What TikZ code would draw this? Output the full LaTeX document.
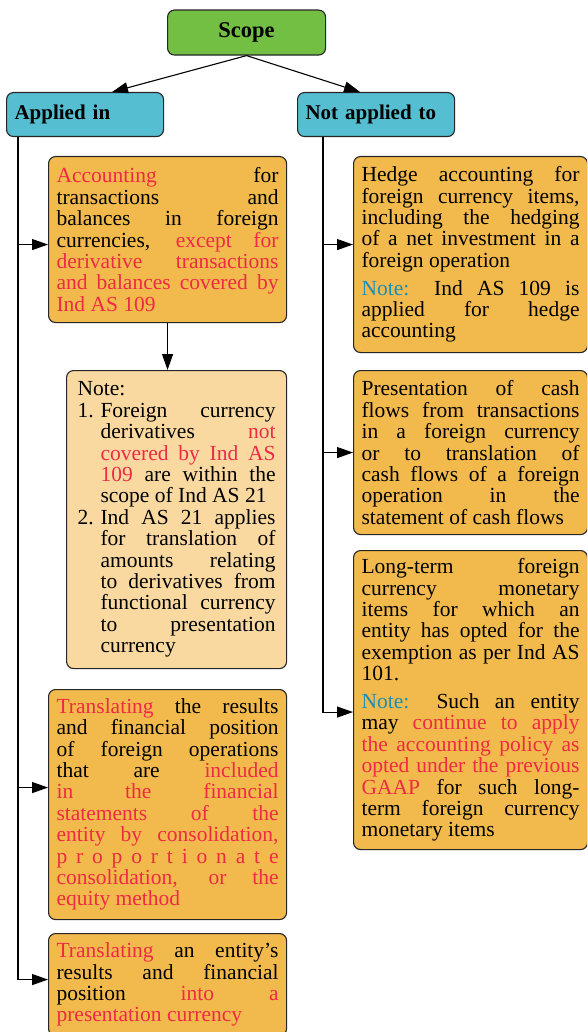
\documentclass[tikz,border=0pt]{standalone}
\usepackage{fontspec}
\setmainfont{Liberation Serif}
\usepackage{xcolor}
\definecolor{scopeGreen}{HTML}{72BF44}
\definecolor{headBlue}{HTML}{56BED1}
\definecolor{boxOrange}{HTML}{F2BA4C}
\definecolor{noteFill}{HTML}{F9D9A0}
\definecolor{hiRed}{HTML}{EE2A45}
\definecolor{noteBlue}{HTML}{1A8FB4}
\usetikzlibrary{arrows.meta}
\newcommand{\hi}[1]{\textcolor{hiRed}{#1}}
\newcommand{\nb}[1]{\textcolor{noteBlue}{#1}}
\newcommand{\numitem}[2]{{\leftskip=23pt\noindent\hspace*{-23pt}\makebox[23pt][l]{#1}#2\par}}
\tikzset{
  card/.style={draw=black!85, line width=1.1pt, rounded corners=7pt, anchor=north west},
  headbox/.style={card, fill=headBlue, minimum height=44pt, text width=141pt, align=left,
    inner xsep=8pt, font=\fontsize{21}{24}\selectfont\bfseries},
  itembox/.style={card, fill=boxOrange, text width=222pt, align=justify, inner xsep=8pt,
    inner ysep=6pt, font=\fontsize{21.5}{21.4}\selectfont},
  arr/.style={line width=1.1pt, -{Triangle[length=16pt,width=11pt]}}
}

\begin{document}
\begin{tikzpicture}[x=1pt,y=1pt]
  \useasboundingbox (0,0) rectangle (587,-1032);
  \clip (0,0) rectangle (587,-1032);
  % top of the tree
  \node[card, fill=scopeGreen, minimum width=158pt, minimum height=45pt,
    font=\fontsize{22.5}{24}\selectfont\bfseries] (scope) at (167,-9.5) {Scope};
  \node[headbox] (applied) at (6,-92) {Applied in};
  \node[headbox] (napplied) at (297,-92) {Not applied to};
  % applied in
  \node[itembox, minimum height=166pt] (b1) at (48,-156)
    {\hi{Accounting} for\linebreak transactions and\linebreak balances in foreign\linebreak
     currencies, \hi{except for\linebreak derivative transactions\linebreak
     and balances covered by\linebreak Ind AS 109}};
  \node[itembox, fill=noteFill, text width=198pt, inner xsep=11pt, minimum height=298pt] (note) at (66,-370)
    {Note:\par
     \numitem{1.}{Foreign currency\linebreak derivatives \hi{not\linebreak covered by Ind AS\linebreak
       109} are within the\linebreak scope of Ind AS 21}
     \numitem{2.}{Ind AS 21 applies\linebreak for translation of\linebreak amounts relating\linebreak
       to derivatives from\linebreak functional currency\linebreak to presentation\linebreak currency}};
  \node[itembox, minimum height=230pt] (b3) at (48,-689)
    {\hi{Translating} the results\linebreak and financial position\linebreak
     of foreign operations\linebreak that are \hi{included\linebreak in the financial\linebreak
     statements of the\linebreak entity by consolidation,\linebreak
     \makebox[\linewidth][s]{p\hfil r\hfil o\hfil p\hfil o\hfil r\hfil t\hfil i\hfil o\hfil n\hfil a\hfil t\hfil e}\linebreak
     consolidation, or the\linebreak equity method}};
  \node[itembox, minimum height=102pt] (b4) at (48,-933)
    {\hi{Translating} an entity's\linebreak results and financial\linebreak
     position \hi{into a\linebreak presentation currency}};
  % not applied to
  \node[itembox, text width=218pt, minimum height=196pt] (r1) at (353,-156)
    {Hedge accounting for\linebreak foreign currency items,\linebreak including the hedging\linebreak
     of a net investment in a\linebreak foreign operation\par\vspace{6.5pt}
     \nb{Note:} Ind AS 109 is\linebreak applied for hedge\linebreak accounting};
  \node[itembox, text width=218pt, minimum height=164pt] (r2) at (353,-370)
    {Presentation of cash\linebreak flows from transactions\linebreak in a foreign currency\linebreak
     or to translation of\linebreak cash flows of a foreign\linebreak operation in the\linebreak
     statement of cash flows};
  \node[itembox, text width=218pt, minimum height=299pt] (r3) at (353,-550)
    {Long-term foreign\linebreak currency monetary\linebreak items for which an\linebreak
     entity has opted for the\linebreak exemption as per Ind AS\linebreak 101.\par\vspace{6.5pt}
     \nb{Note:} Such an entity\linebreak may \hi{continue to apply\linebreak
     the accounting policy as\linebreak opted under the previous\linebreak GAAP} for such long-\linebreak
     term foreign currency\linebreak monetary items};
  % connectors
  \coordinate (trunkL) at ([xshift=12]applied.south west);
  \coordinate (trunkR) at ([xshift=26]napplied.south west);
  \draw[arr] (scope.south) -- ([xshift=27]applied.north);
  \draw[arr] (scope.south) -- ([xshift=-16]napplied.north);
  \draw[arr] (trunkL) |- ([yshift=-5]b1.west);
  \draw[arr] (trunkL) |- ([yshift=17]b3.west);
  \draw[arr] (trunkL) |- ([yshift=5]b4.west);
  \draw[arr] (b1.south) -- (b1.south |- note.north);
  \draw[arr] (trunkR) |- ([yshift=10]r1.west);
  \draw[arr] (trunkR) |- (r2.west);
  \draw[arr] (trunkR) |- ([yshift=-12]r3.west);
\end{tikzpicture}
\end{document}
